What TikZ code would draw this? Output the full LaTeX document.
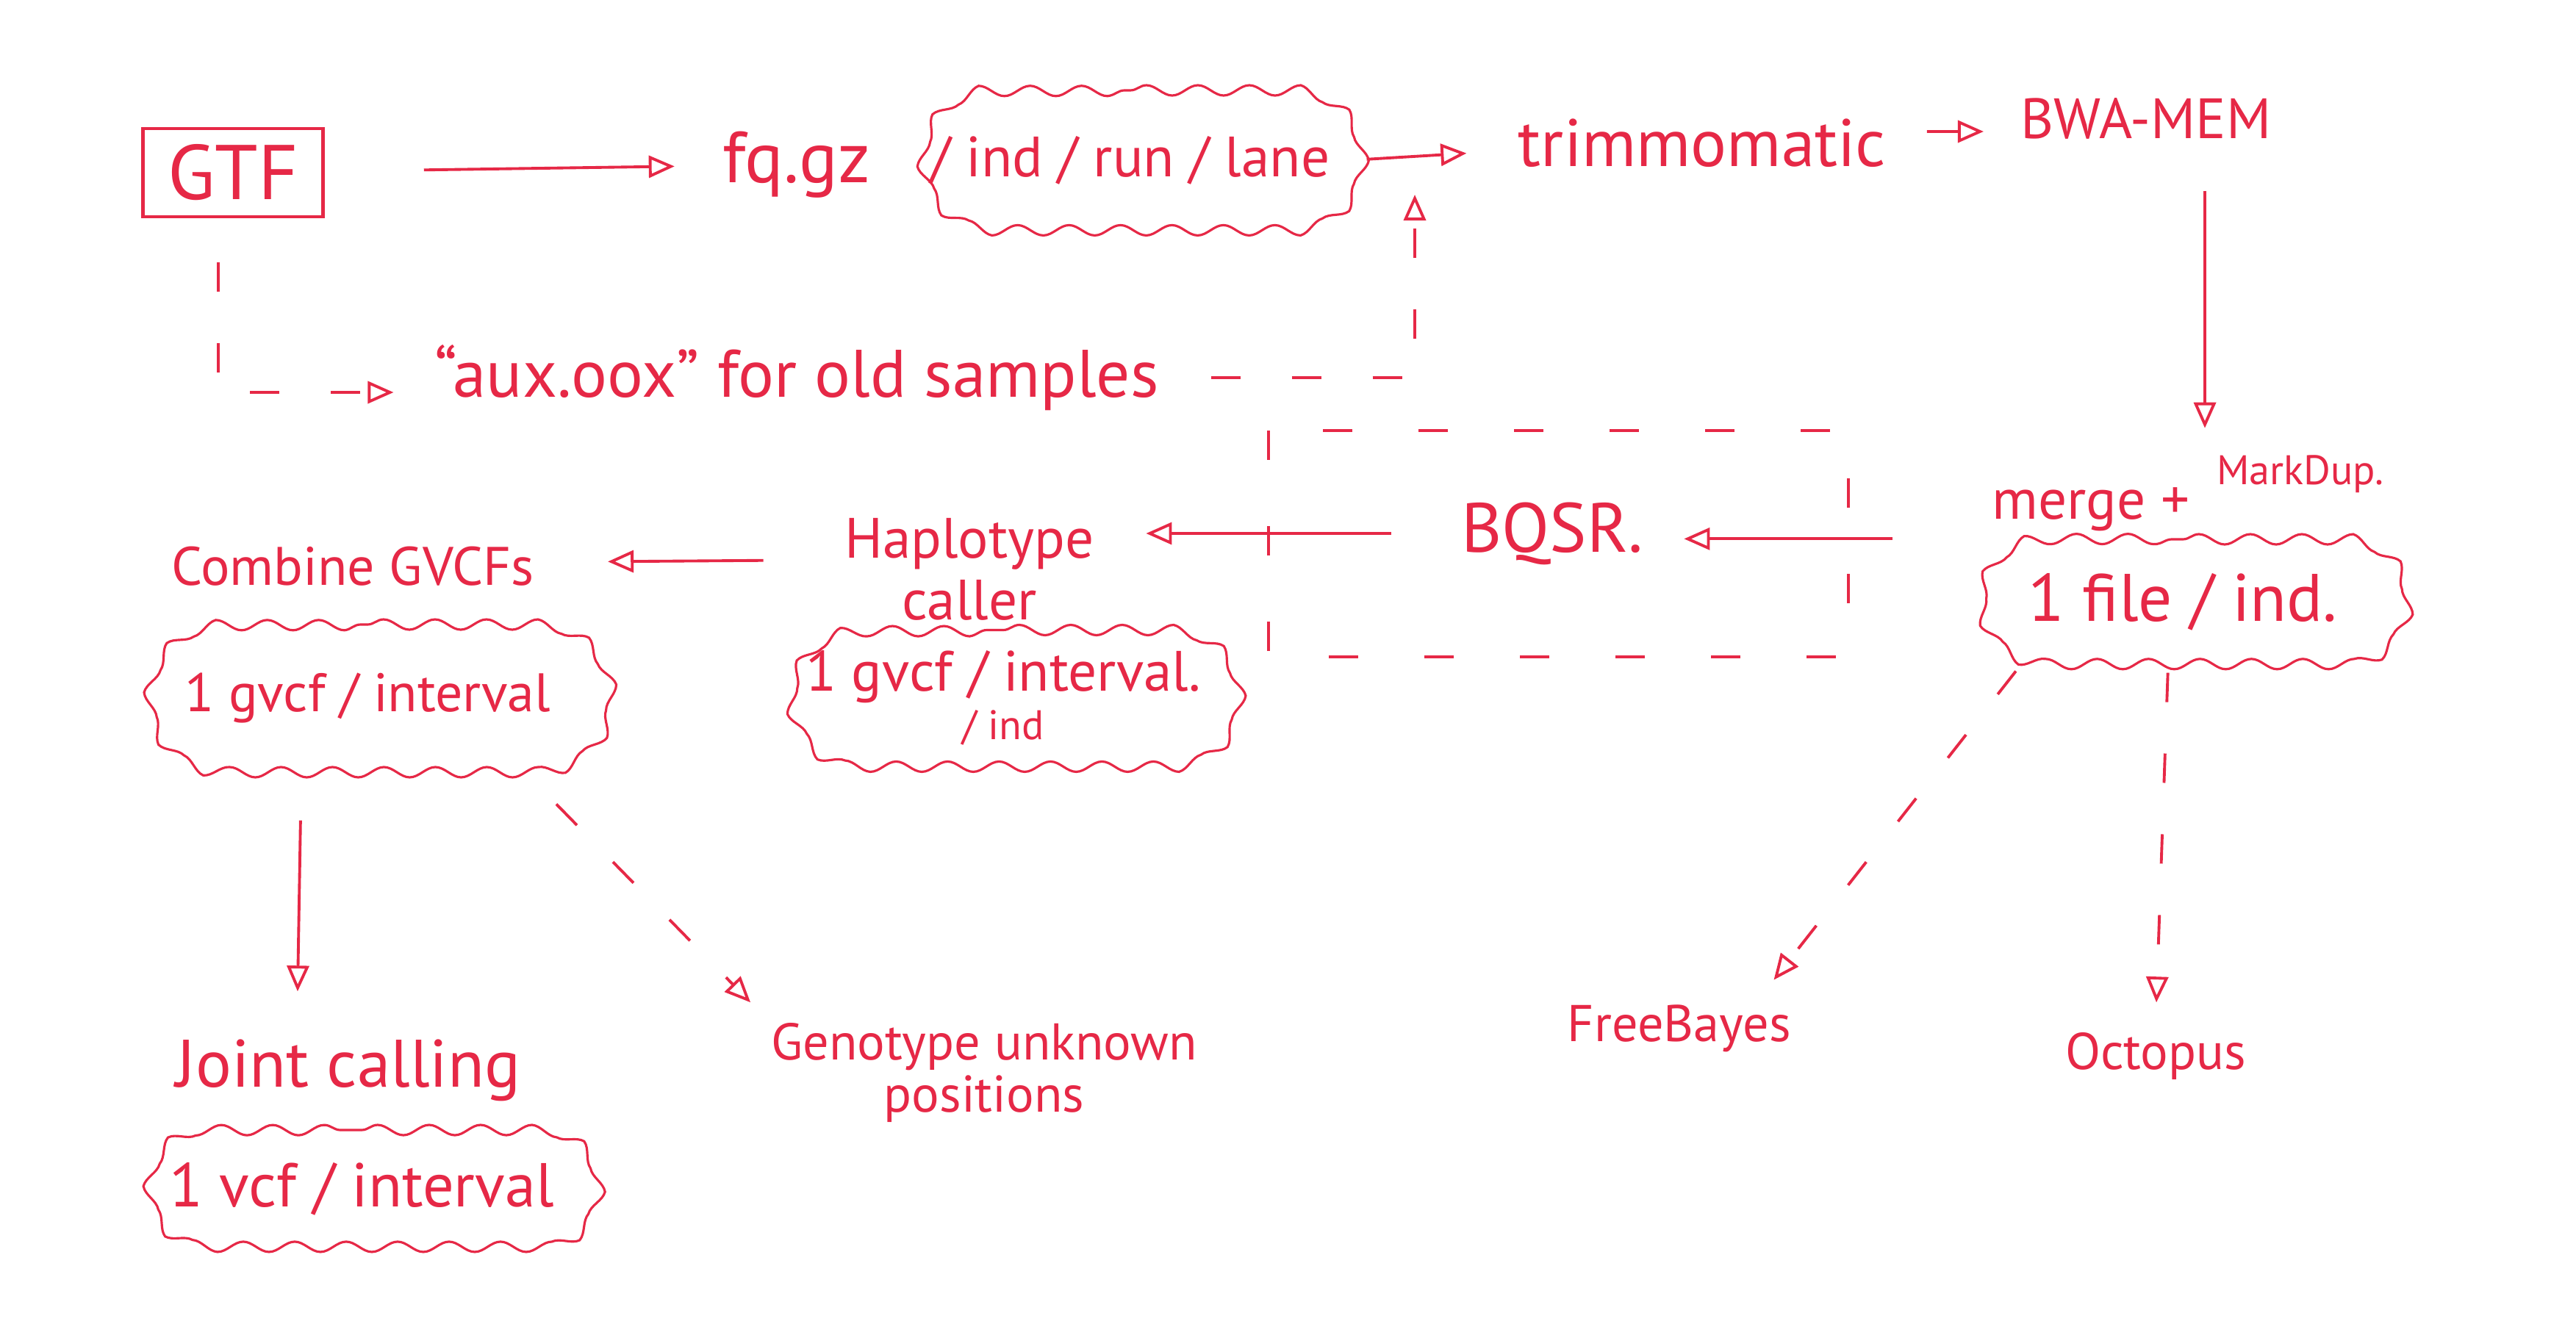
\documentclass[tikz,border=0pt]{standalone}
\usepackage{fontspec}
\setmainfont{PT Sans}
\usetikzlibrary{arrows.meta, decorations.pathmorphing, shapes.misc, positioning, calc}
\definecolor{handred}{RGB}{230,40,70}

\begin{document}
\begin{tikzpicture}[>=stealth,
  lbl/.style={text=handred, font=\fontsize{#1}{#1}\selectfont, inner sep=1mm},
  lbl/.default=24,
  boxed/.style={lbl=30, draw=handred, line width=1.3pt, minimum width=2.45cm, minimum height=1.2cm},
  cloudy/.style={lbl=#1, draw=handred, line width=0.9pt, rounded rectangle,
    decorate, decoration={snake, amplitude=0.7mm, segment length=7mm}},
  arr/.style={draw=handred, line width=1.1pt, -{Triangle[open, length=3.5mm, width=3mm]}},
  dsh/.style={arr, dash pattern=on 4mm off 7mm}]
  \fill[white] (0,0) rectangle (35.05,-18.01);
  \useasboundingbox (0,0) rectangle (35.05,-18.01);

  % top row
  \node[boxed] (gtf) at (3.17,-2.35) {GTF};
  \node[lbl=28] (fq) at (10.84,-2.24) {fq.gz};
  \node[cloudy=22, minimum width=6.2cm, minimum height=1.9cm] (lanes) at (15.38,-2.18) {/ ind / run / lane};
  \node[lbl=26] (trim) at (23.16,-1.95) {trimmomatic};
  \node[lbl=22] (bwa) at (29.2,-1.61) {BWA-MEM};
  \node[lbl=26] (aux) at (10.84,-5.14) {``aux.oox'' for old samples};
  \coordinate (oldin) at (19.25,-2.65);

  % middle row
  \node[lbl=22] (merge) at (28.45,-6.93) {merge +};
  \node[lbl=16] (mdup) at (31.3,-6.45) {MarkDup.};
  \node[cloudy=26, minimum width=6.0cm, minimum height=1.7cm] (perind) at (29.7,-8.19) {1 file / ind.};
  \node[lbl=27] (bqsr) at (21.12,-7.26) {BQSR.};
  \node[lbl=22, align=center, font=\fontsize{22}{24}\selectfont] (hc) at (13.19,-7.75) {Haplotype\\caller};
  \node[cloudy=22, minimum width=6.3cm, minimum height=1.85cm, align=center, font=\fontsize{22}{19}\selectfont]
    (hccloud) at (13.65,-9.5) {1 gvcf / interval.\\{\fontsize{16}{16}\selectfont / ind}};
  \node[lbl=21] (comb) at (4.8,-7.71) {Combine GVCFs};
  \node[cloudy=21, minimum width=6.5cm, minimum height=2.0cm] (combcloud) at (5.0,-9.5) {1 gvcf / interval};

  % bottom row
  \node[lbl=26] (joint) at (4.74,-14.57) {Joint calling};
  \node[cloudy=24, minimum width=6.3cm, minimum height=1.6cm] (jointcloud) at (4.92,-16.18) {1 vcf / interval};
  \node[lbl=20, align=center] (geno) at (13.39,-14.6) {Genotype unknown\\positions};
  \node[lbl=20] (fb) at (22.85,-14.0) {FreeBayes};
  \node[lbl=20] (octo) at (29.33,-14.37) {Octopus};

  % dashed box round BQSR
  \draw[handred, line width=1.1pt, dash pattern=on 4mm off 9mm]
    ($(bqsr)+(-3.86,1.4)$) rectangle ($(bqsr)+(4.03,-1.68)$);

  % solid arrows
  \draw[arr, shorten <=1.35cm, shorten >=0.55cm] (gtf) -- (fq);
  \draw[arr, shorten <=0.2cm, shorten >=0.6cm] (lanes.east) -- ([yshift=-1mm]trim.west);
  \draw[arr, shorten <=0.45cm, shorten >=0.4cm] ([yshift=1.6mm]trim.east) -- ([yshift=-1.8mm]bwa.west);
  \draw[arr, shorten <=0.6cm, shorten >=0.7cm] ([xshift=8mm]bwa.south) -- ([xshift=15.5mm]merge.north);
  \draw[arr, shorten <=1.25cm, shorten >=0.45cm] (merge.south west) -- (bqsr.east |- merge.south west);
  \draw[arr, shorten <=0.85cm, shorten >=0.6cm] (bqsr.west) -- (hc.east |- bqsr.west);
  \draw[arr, shorten <=1.0cm, shorten >=0.9cm] ([yshift=1.3mm]hc.west) -- ([yshift=1mm]comb.east |- hc.west);
  \draw[arr, shorten <=0.65cm, shorten >=0.55cm] ([xshift=-9mm]combcloud.south) -- ([xshift=-7mm]joint.north);

  % dashed arrows
  \draw[dsh, shorten <=0.6cm, shorten >=0.45cm] ([xshift=-2mm]gtf.south) |- ([yshift=-2mm]aux.west);
  \draw[dsh, shorten <=0.6cm] (aux.east) -| (oldin);
  \draw[dsh, shorten <=0.6cm, shorten >=0.25cm] (combcloud.south east) -- (geno.north west);
  \draw[dsh, shorten <=0.1cm, shorten >=0.3cm] ([xshift=-1.6mm]perind.south west) -- ([xshift=11mm]fb.north);
  \draw[dsh, shorten <=0.1cm, shorten >=0.3cm] ([xshift=-2mm]perind.south) -- (octo.north);
\end{tikzpicture}
\end{document}
